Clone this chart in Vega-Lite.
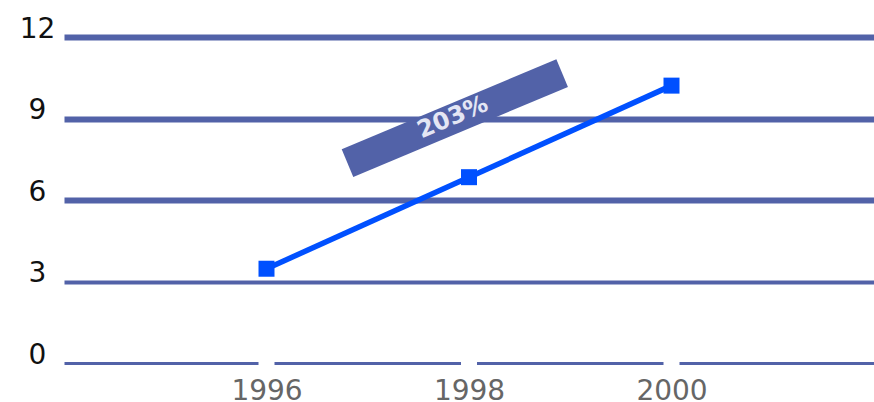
{
  "$schema": "https://vega.github.io/schema/vega-lite/v6.json",
  "width": 810,
  "height": 326,
  "autosize": {"type": "none"},
  "padding": {"left": 64, "top": 37, "right": 0, "bottom": 39},
  "background": "white",
  "config": {"view": {"stroke": null}},
  "datasets": {
    "series": [
      {"year": 1996, "value": 3.47},
      {"year": 1998, "value": 6.84},
      {"year": 2000, "value": 10.21}
    ],
    "note": [
      {"x": 1996.8, "y": 7.36, "x2": 1998.92, "y2": 10.67, "tx": 1997.84, "ty": 9.03, "label": "203%"}
    ]
  },
  "layer": [
    {
      "data": {"name": "series"},
      "mark": {"type": "rule", "color": "white", "strokeWidth": 16},
      "encoding": {
        "x": {"field": "year", "type": "quantitative", "scale": {"domain": [1994, 2002]},
          "axis": {"values": [1996, 1998, 2000], "format": "d", "grid": false, "domain": false, "ticks": false,
            "labelFont": "DejaVu Sans", "labelFontSize": 28, "labelColor": "#666666", "labelBaseline": "alphabetic", "labelPadding": 36, "title": null}},
        "y": {"datum": -0.15, "type": "quantitative", "scale": {"domain": [0, 12]},
          "axis": {"values": [0, 3, 6, 9, 12], "grid": true, "gridColor": "#5262a8", "gridOpacity": 1,
            "gridWidth": {"condition": [{"test": "datum.value == 0", "value": 3}, {"test": "datum.value == 3", "value": 4}], "value": 6},
            "domain": false, "ticks": false, "labelFont": "DejaVu Sans", "labelFontSize": 28, "labelColor": "#111111",
            "labelAlign": "center", "labelBaseline": "alphabetic", "labelPadding": 27, "title": null}},
        "y2": {"datum": 0.15}
      }
    },
    {
      "data": {"name": "note"},
      "mark": {"type": "rule", "color": "#5262a8", "strokeWidth": 30, "strokeCap": "butt"},
      "encoding": {
        "x": {"field": "x", "type": "quantitative"},
        "y": {"field": "y", "type": "quantitative"},
        "x2": {"field": "x2"},
        "y2": {"field": "y2"}
      }
    },
    {
      "data": {"name": "note"},
      "mark": {"type": "text", "color": "#e4e6f4", "font": "DejaVu Sans", "fontWeight": "bold", "fontSize": 24, "angle": 337, "align": "center", "baseline": "middle"},
      "encoding": {
        "x": {"field": "tx", "type": "quantitative"},
        "y": {"field": "ty", "type": "quantitative"},
        "text": {"field": "label"}
      }
    },
    {
      "data": {"name": "series"},
      "mark": {"type": "line", "color": "#0050ff", "strokeWidth": 5.5},
      "encoding": {
        "x": {"field": "year", "type": "quantitative"},
        "y": {"field": "value", "type": "quantitative"}
      }
    },
    {
      "data": {"name": "series"},
      "mark": {"type": "square", "color": "#0050ff", "opacity": 1, "filled": true, "size": 256},
      "encoding": {
        "x": {"field": "year", "type": "quantitative"},
        "y": {"field": "value", "type": "quantitative"}
      }
    }
  ]
}
